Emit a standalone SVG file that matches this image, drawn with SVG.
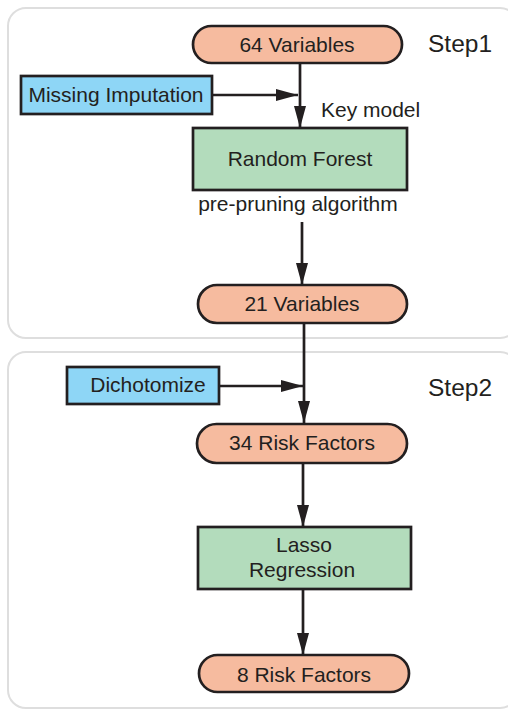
<svg xmlns="http://www.w3.org/2000/svg" width="508" height="710" viewBox="0 0 508 710">
<style>
text{font-family:"Liberation Sans",Arial,sans-serif;fill:#231f20}
.n{font-size:21px;text-anchor:middle}
.step{font-size:24.5px}
.lbl{font-size:21px}
.pill{fill:#f6bb9f;stroke:#231f20;stroke-width:2.7}
.grn{fill:#b3dcbc;stroke:#231f20;stroke-width:2.7}
.blu{fill:#8ed6f6;stroke:#231f20;stroke-width:2.7}
.panel{fill:#fff;stroke:#dedede;stroke-width:2}
.c{stroke:#231f20;stroke-width:2.7;fill:none}
</style>
<defs>
<marker id="ah" viewBox="0 0 22 12" refX="22" refY="6" markerWidth="22" markerHeight="12" markerUnits="userSpaceOnUse" orient="auto">
<path d="M0,0 L22,6 L0,12 Z" fill="#231f20"/>
</marker>
</defs>
<rect width="508" height="710" fill="#fff"/>
<rect class="panel" x="8" y="8" width="510" height="330" rx="18"/>
<rect class="panel" x="8" y="352" width="510" height="356" rx="18"/>
<text class="step" x="428" y="52">Step1</text>
<text class="step" x="428" y="396">Step2</text>
<g id="connectors">
<line class="c" x1="300" y1="63" x2="300" y2="128" marker-end="url(#ah)"/>
<line class="c" x1="212" y1="95" x2="298" y2="95" marker-end="url(#ah)"/>
<line class="c" x1="302" y1="222" x2="302" y2="285" marker-end="url(#ah)"/>
<line class="c" x1="304" y1="323" x2="304" y2="423" marker-end="url(#ah)"/>
<line class="c" x1="219" y1="386" x2="303" y2="386" marker-end="url(#ah)"/>
<line class="c" x1="303" y1="463" x2="303" y2="527" marker-end="url(#ah)"/>
<line class="c" x1="303" y1="589" x2="303" y2="655" marker-end="url(#ah)"/>
<text class="lbl" x="321" y="117">Key model</text>
<text class="lbl" x="298" y="211" text-anchor="middle">pre-pruning algorithm</text>
</g>
<g id="n64">
<rect class="pill" x="193" y="26" width="209" height="37" rx="18.5"/>
<text class="n" x="297" y="52">64 Variables</text>
</g>
<g id="missing">
<rect class="blu" x="21" y="76" width="191" height="38"/>
<text class="n" x="116" y="102">Missing Imputation</text>
</g>
<g id="rf">
<rect class="grn" x="193" y="128" width="214" height="62"/>
<text class="n" x="300" y="166">Random Forest</text>
</g>
<g id="n21">
<rect class="pill" x="198" y="285" width="209" height="38" rx="19"/>
<text class="n" x="302" y="311">21 Variables</text>
</g>
<g id="dich">
<rect class="blu" x="67" y="367" width="152" height="37"/>
<text class="n" x="148" y="392">Dichotomize</text>
</g>
<g id="r34">
<rect class="pill" x="197" y="424" width="210" height="39" rx="19.5"/>
<text class="n" x="302" y="450">34 Risk Factors</text>
</g>
<g id="lasso">
<rect class="grn" x="198" y="527" width="213" height="62"/>
<text class="n" x="304" y="552">Lasso</text>
<text class="n" x="302" y="577">Regression</text>
</g>
<g id="r8">
<rect class="pill" x="199" y="655" width="210" height="37" rx="18.5"/>
<text class="n" x="304" y="682">8 Risk Factors</text>
</g>
</svg>
